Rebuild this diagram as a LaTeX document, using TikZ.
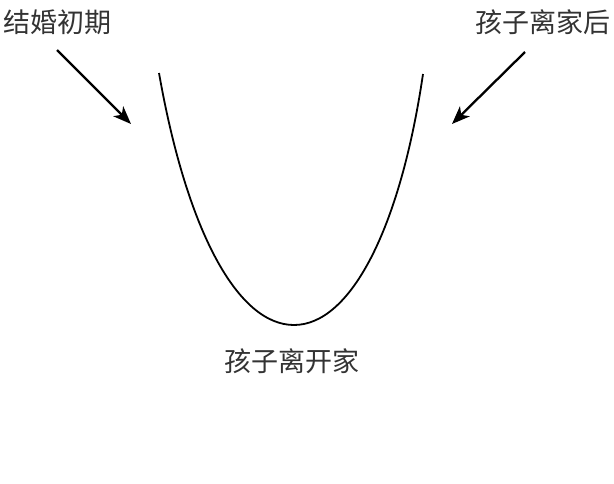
\documentclass[tikz,border=0pt]{standalone}
\usepackage{fontspec}
\newfontfamily\cjk{Noto Sans CJK SC}
\usetikzlibrary{arrows.meta}
\begin{document}
\begin{tikzpicture}[x=1pt,y=-1pt,
  lbl/.style={font=\cjk\fontsize{27}{30}\selectfont, text=black!80, inner sep=0pt},
  arr/.style={line width=2.3pt, -{Stealth[length=18pt,width=14pt,inset=5pt]}},
  curve/.style={line width=1.8pt}]
\useasboundingbox (0,0) rectangle (614,483);
\node[lbl, anchor=west] (early) at (3,22) {结婚初期};
\node[lbl, anchor=east] (after) at (611,22) {孩子离家后};
\node[lbl] (leave) at (292,361) {孩子离开家};
\coordinate (a1s) at (57,50);
\coordinate (a1e) at (131,124);
\coordinate (a2s) at (525,52);
\coordinate (a2e) at (452,124);
\coordinate (c0) at (159,73);
\coordinate (cm) at (294,325);
\coordinate (c1) at (423,74);
\draw[arr] (a1s) -- (a1e);
\draw[arr] (a2s) -- (a2e);
\draw[curve] (c0) .. controls (187,232) and (238,325) .. (cm)
  .. controls (350,325) and (400,230) .. (c1);
\end{tikzpicture}
\end{document}
